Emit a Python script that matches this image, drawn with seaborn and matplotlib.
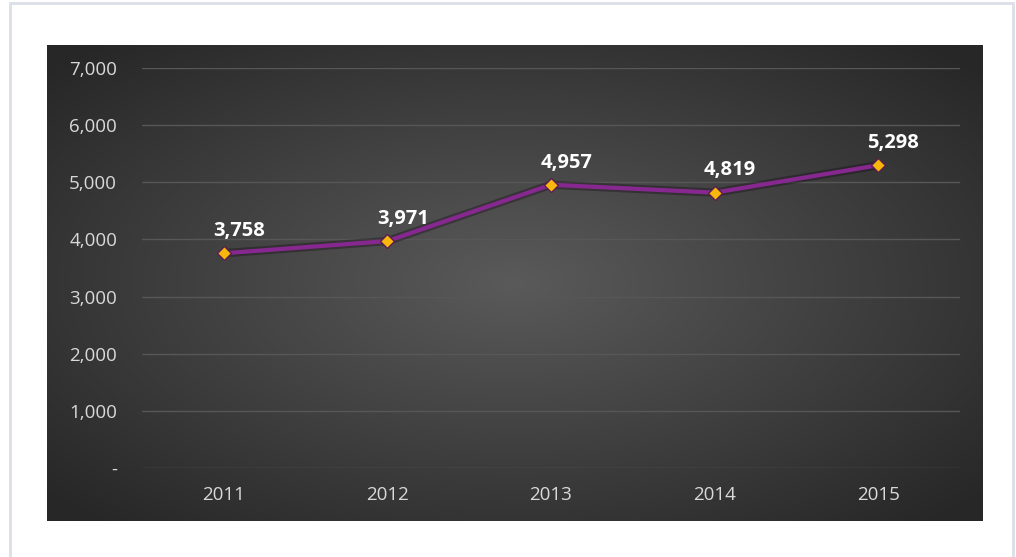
import numpy as np
import matplotlib
matplotlib.use("Agg")
import matplotlib.pyplot as plt
import seaborn as sns
import pandas as pd
from matplotlib.patches import Rectangle

years = ["2011", "2012", "2013", "2014", "2015"]
values = [3758, 3971, 4957, 4819, 5298]
yticks = [0, 1000, 2000, 3000, 4000, 5000, 6000, 7000]
ytick_labels = ["-", "1,000", "2,000", "3,000", "4,000", "5,000", "6,000", "7,000"]

sns.set_theme(style="dark")
plt.rcParams["font.family"] = ["Open Sans", "DejaVu Sans"]

W, H = 1016, 557
fig = plt.figure(figsize=(W / 100, H / 100), dpi=100, facecolor="white")

# outer border
border = Rectangle((10 / W, -0.05), (1013 - 10) / W, 1.05 - 3 / H, transform=fig.transFigure,
                   facecolor="none", edgecolor="#dcdfe7", linewidth=2, zorder=-5)
fig.patches.append(border)

# dark panel with radial gradient
bg = fig.add_axes([47 / W, 1 - 521 / H, (982 - 47) / W, (521 - 45) / H])
yy, xx = np.mgrid[-1:1:300j, -1:1:600j]
r = np.sqrt(xx ** 2 + yy ** 2)
r = np.clip(r / 1.35, 0, 1)
c0 = np.array([0x5a, 0x5a, 0x5a]) / 255
c1 = np.array([0x27, 0x27, 0x27]) / 255
img = c0[None, None, :] * (1 - r[..., None]) + c1[None, None, :] * r[..., None]
bg.imshow(img, aspect="auto", extent=[0, 1, 0, 1])
bg.set_axis_off()

ax = fig.add_axes([142 / W, 1 - 468 / H, 818 / W, (468 - 68) / H])
ax.set_facecolor((0, 0, 0, 0))
for s in ax.spines.values():
    s.set_visible(False)

df = pd.DataFrame({"year": years, "value": values})
# shadow line
sns.lineplot(data=df, x="year", y="value", ax=ax, color="#120612", linewidth=6, alpha=0.35,
             sort=False, zorder=2)
sns.lineplot(data=df, x="year", y="value", ax=ax, color="#86288f", linewidth=3,
             marker="D", markersize=7.5, markerfacecolor="#f9b70e", markeredgecolor="#5a1f50",
             markeredgewidth=1.0, sort=False, zorder=3)

ax.set_xlim(-0.5, 4.5)
ax.set_ylim(0, 7000)
ax.set_yticks(yticks)
ax.set_yticklabels(ytick_labels)
ax.yaxis.grid(True, color="#575757", linewidth=1)
ax.xaxis.grid(False)
ax.tick_params(axis="y", colors="#d9d9d9", labelsize=13.5, length=0, pad=18)
ax.tick_params(axis="x", colors="#d9d9d9", labelsize=13.5, length=0, pad=13)
ax.set_xlabel("")
ax.set_ylabel("")

for i, v in enumerate(values):
    ax.annotate(f"{v:,}", (i, v), xytext=(11, 16), textcoords="offset points",
                ha="center", va="center", color="white", fontsize=14.5, fontweight="bold")

fig.savefig("out.png", dpi=100, facecolor="white")
